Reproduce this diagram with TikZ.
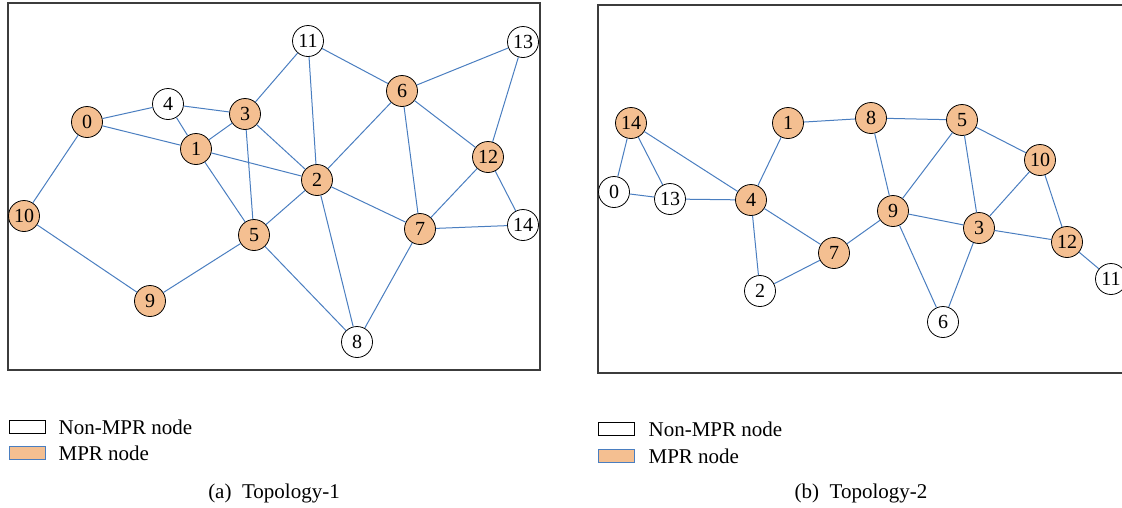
\documentclass[tikz,border=0pt]{standalone}
\usepackage{fontspec}
\setmainfont{Liberation Serif}
\usetikzlibrary{positioning}
\definecolor{mprfill}{RGB}{244,191,145}
\definecolor{linkblue}{RGB}{74,126,192}
\definecolor{framegray}{RGB}{60,60,60}
\tikzstyle{vertex} = [circle, draw, thick, minimum size=31pt, inner sep=0pt, font=\fontsize{20}{20}\selectfont]
\tikzstyle{plain} = [vertex, fill=white]
\tikzstyle{mpr} = [vertex, fill=mprfill]
\tikzstyle{link} = [linkblue, line width=1pt]
\tikzstyle{frame} = [framegray, line width=1.2pt]
\tikzstyle{key} = [font=\fontsize{21}{21}\selectfont, anchor=west, inner sep=0pt]
\tikzstyle{caption} = [font=\fontsize{21}{21}\selectfont]

\begin{document}
\begin{tikzpicture}[x=1pt, y=-1pt]
    \clip (0,0) rectangle (1122,507);

    % Topology-1.
    \draw [frame] (8,3) rectangle (540,370);
    \node (a0) [mpr] at (87,122) {0};
    \node (a1) [mpr] at (196,149) {1};
    \node (a2) [mpr] at (317,180) {2};
    \node (a3) [mpr] at (245,114) {3};
    \node (a4) [plain] at (168,104) {4};
    \node (a5) [mpr] at (254,235) {5};
    \node (a6) [mpr] at (402,91) {6};
    \node (a7) [mpr] at (420,229) {7};
    \node (a8) [plain] at (357,342) {8};
    \node (a9) [mpr] at (150,301) {9};
    \node (a10) [mpr] at (24,216) {10};
    \node (a11) [plain] at (308,41) {11};
    \node (a12) [mpr] at (488,157) {12};
    \node (a13) [plain] at (523,42) {13};
    \node (a14) [plain] at (523,225) {14};

    \draw [link] (a0) -- (a4) (a0) -- (a1) (a0) -- (a10) (a10) -- (a9);
    \draw [link] (a4) -- (a3) (a4) -- (a1) (a3) -- (a1) (a3) -- (a11);
    \draw [link] (a3) -- (a2) (a3) -- (a5) (a1) -- (a2) (a1) -- (a5);
    \draw [link] (a11) -- (a2) (a11) -- (a6) (a6) -- (a2) (a6) -- (a7);
    \draw [link] (a6) -- (a12) (a6) -- (a13) (a13) -- (a12) (a12) -- (a7);
    \draw [link] (a12) -- (a14) (a7) -- (a14) (a2) -- (a7) (a2) -- (a5);
    \draw [link] (a2) -- (a8) (a7) -- (a8) (a5) -- (a8) (a5) -- (a9);

    % Topology-2.
    \draw [frame] (598,5) rectangle (1140,373);
    \node (b0) [plain] at (614,192) {0};
    \node (b1) [mpr] at (788,123) {1};
    \node (b2) [plain] at (760,291) {2};
    \node (b3) [mpr] at (979,228) {3};
    \node (b4) [mpr] at (751,200) {4};
    \node (b5) [mpr] at (962,120) {5};
    \node (b6) [plain] at (943,322) {6};
    \node (b7) [mpr] at (834,253) {7};
    \node (b8) [mpr] at (871,118) {8};
    \node (b9) [mpr] at (893,211) {9};
    \node (b10) [mpr] at (1040,160) {10};
    \node (b11) [plain] at (1111,279) {11};
    \node (b12) [mpr] at (1067,242) {12};
    \node (b13) [plain] at (670,199) {13};
    \node (b14) [mpr] at (631,123) {14};

    \draw [link] (b14) -- (b0) (b14) -- (b13) (b14) -- (b4) (b0) -- (b13);
    \draw [link] (b13) -- (b4) (b4) -- (b1) (b4) -- (b7) (b4) -- (b2);
    \draw [link] (b2) -- (b7) (b7) -- (b9) (b1) -- (b8) (b8) -- (b5);
    \draw [link] (b8) -- (b9) (b5) -- (b9) (b5) -- (b3) (b5) -- (b10);
    \draw [link] (b10) -- (b3) (b10) -- (b12) (b9) -- (b3) (b9) -- (b6);
    \draw [link] (b3) -- (b6) (b3) -- (b12) (b12) -- (b11);

    % Legends.
    \node (a key1) [draw, thick, fill=white, minimum width=36pt, minimum height=13pt, inner sep=0pt] at (27,427) {};
    \node (a key2) [draw=linkblue, thick, fill=mprfill, minimum width=36pt, minimum height=13pt, inner sep=0pt] at (27,453) {};
    \node [key, right=13pt of a key1] {Non-MPR node};
    \node [key, right=13pt of a key2] {MPR node};
    \node (b key1) [draw, thick, fill=white, minimum width=36pt, minimum height=13pt, inner sep=0pt] at (616,429) {};
    \node (b key2) [draw=linkblue, thick, fill=mprfill, minimum width=36pt, minimum height=13pt, inner sep=0pt] at (616,456) {};
    \node [key, right=14pt of b key1] {Non-MPR node};
    \node [key, right=14pt of b key2] {MPR node};

    % Captions.
    \node (a cap) [caption] at (274,493) {(a)\enspace Topology-1};
    \node (b cap) [caption] at (861,493) {(b)\enspace Topology-2};
\end{tikzpicture}
\end{document}
